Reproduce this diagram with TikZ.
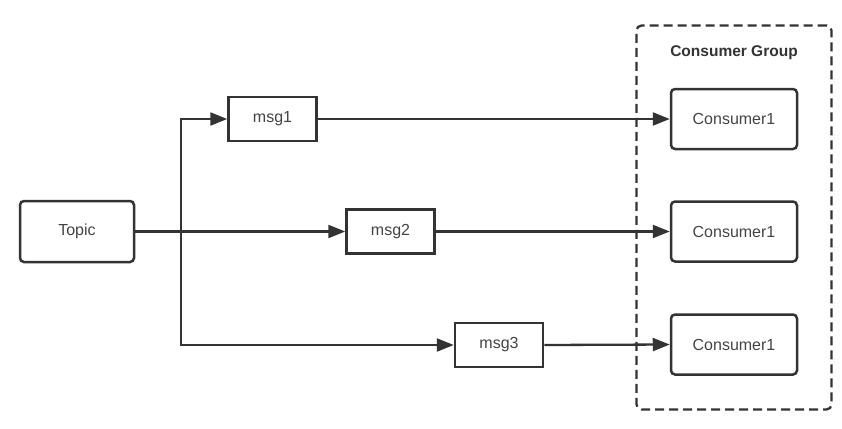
\documentclass[tikz,border=0pt]{standalone}
\usepackage{fontspec}
\setmainfont{Liberation Sans}
\usetikzlibrary{arrows.meta}
\definecolor{ink}{HTML}{333333}
\definecolor{txt}{HTML}{444444}
\tikzset{
  box/.style={draw=ink, line width=2.5pt, rounded corners=4pt, inner sep=0pt, text=txt, font=\fontsize{16}{19}\selectfont},
  msgbox/.style={draw=ink, line width=2.5pt, inner sep=0pt, text=txt, font=\fontsize{16}{19}\selectfont, minimum width=88pt, minimum height=44pt},
  cons/.style={box, minimum width=126pt, minimum height=60pt},
  arr/.style={draw=ink, line width=2.3pt, -{Triangle[length=17pt,width=13pt]}},
}
\begin{document}
\begin{tikzpicture}[x=1pt,y=-1pt]
\useasboundingbox (0,0) rectangle (842,428);
\node[box, minimum width=114pt, minimum height=61pt] (topic) at (77,231.5) {Topic};
\node[msgbox] (msg1) at (272.5,119) {msg1};
\node[msgbox] (msg2) at (390.5,231.5) {msg2};
\node[msgbox] (msg3) at (499,345) {msg3};
\node[cons] (c1) at (734,119) {Consumer1};
\node[cons] (c2) at (734,231.5) {Consumer1};
\node[cons] (c3) at (734,344.5) {Consumer1};
\node[draw=ink, line width=2.3pt, dash pattern=on 9pt off 5pt, rounded corners=5pt, minimum width=195pt, minimum height=384pt, inner sep=0pt] (group) at (734,217.5) {};
\node[font=\bfseries\fontsize{15.5}{18}\selectfont, text=ink] (glabel) at (734,53) {Consumer Group};
\coordinate (j) at (181,231.5);
\draw[arr] (topic.east) -- (msg2.west);
\draw[arr] (j) |- (msg1.west);
\draw[arr] (j) |- (msg3.west);
\draw[arr] (msg1.east) -- (c1.west);
\draw[arr] (msg2.east) -- (c2.west);
\draw[arr] (msg3.east) -- (c3.west);
\end{tikzpicture}
\end{document}
